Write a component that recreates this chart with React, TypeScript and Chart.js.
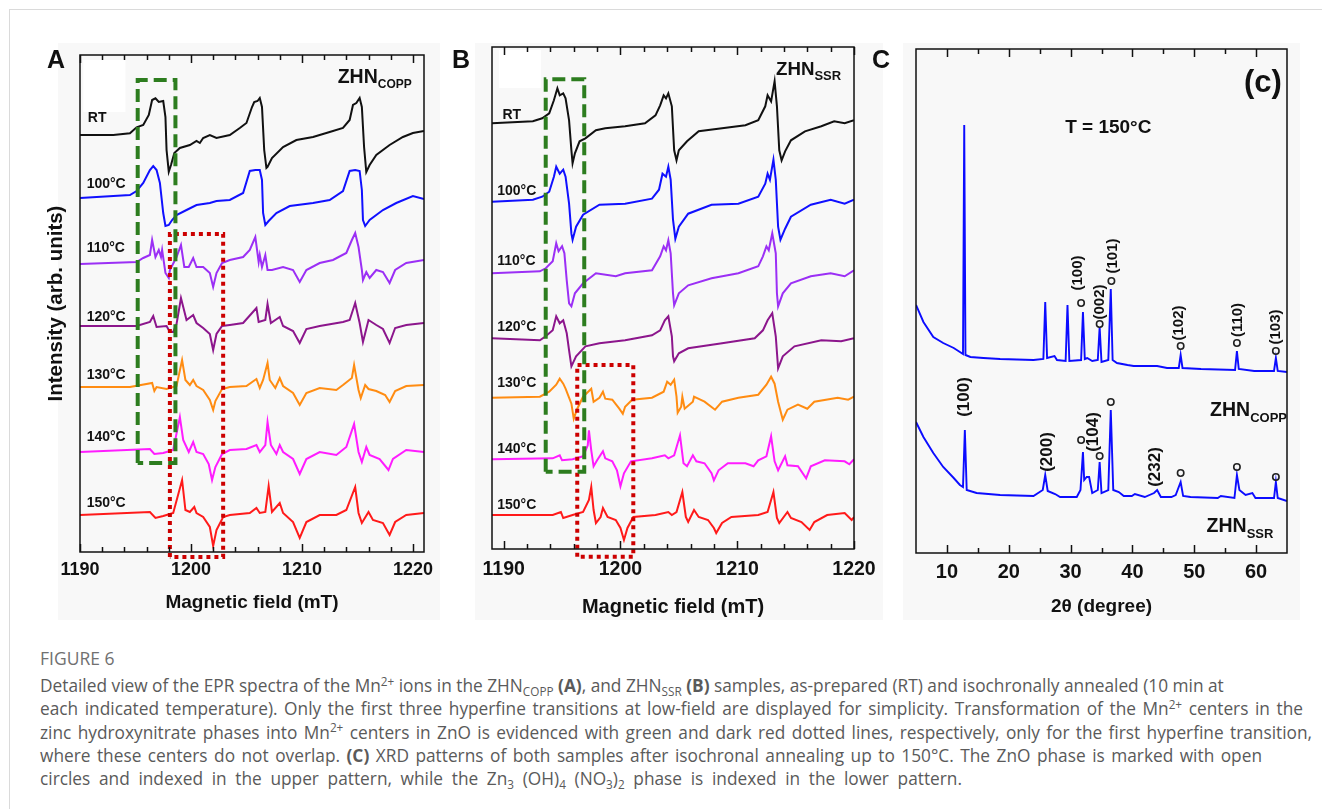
import React, { useEffect, useRef } from "react";
import { Chart, registerables } from "chart.js";
Chart.register(...registerables);

const FONT = "'Liberation Sans', Arial, Helvetica, sans-serif";
const CAPTION_FONT = "'Open Sans', 'Noto Sans', sans-serif";

// ---------- Panel A (ZHN_COPP) EPR traces: [field mT, intensity rel. to baseline] ----------
const A_RT = [[1190.0,0],[1193.0,0],[1194.5,1.7],[1195.1,7.7],[1195.7,10],[1196.2,20],[1196.5,35],[1196.8,36.7],[1197.1,33],[1197.5,34],[1197.7,18],[1197.8,-15],[1198.0,-36.7],[1198.2,-30],[1198.5,-18],[1199.0,-13],[1199.9,-10],[1200.5,-6],[1200.8,-8],[1201.1,-3],[1201.7,0],[1202.3,-3],[1203.5,0],[1204.4,7],[1205.0,12],[1205.5,28],[1205.7,33],[1206.0,34],[1206.2,37],[1206.4,28],[1206.6,-15],[1206.8,-33],[1206.9,-32],[1207.3,-23],[1208.3,-12],[1209.5,-5],[1211.0,-2],[1212.5,3],[1213.7,7],[1214.3,15],[1214.6,30],[1214.9,32],[1215.2,37],[1215.4,28],[1215.6,-12],[1215.8,-37],[1216.1,-30],[1216.7,-20],[1217.9,-10],[1219.1,-2],[1220.0,2],[1221.0,4]];
const A_100 = [[1190.0,0],[1194.5,3],[1195.1,7],[1195.7,15],[1196.3,28],[1196.6,32],[1196.9,28],[1197.2,15],[1197.5,-15],[1197.7,-28],[1198.0,-27],[1198.3,-22],[1198.7,-17],[1199.6,-12],[1200.5,-7],[1201.7,-5],[1202.3,-3],[1203.5,-2],[1204.7,5],[1205.3,27],[1205.8,28],[1206.2,28],[1206.4,18],[1206.5,-15],[1206.7,-27],[1207.0,-23],[1207.7,-15],[1208.9,-8],[1211.0,-5],[1212.5,-2],[1213.7,7],[1214.3,27],[1214.8,28],[1215.2,27],[1215.4,8],[1215.5,-22],[1215.7,-28],[1216.1,-22],[1217.3,-12],[1218.5,-5],[1220.0,2],[1221.0,-1]];
const A_110 = [[1190.0,0],[1195.1,2],[1195.7,6],[1196.3,9],[1196.5,24],[1196.8,7],[1197.1,14],[1197.3,7],[1197.4,14],[1197.7,-9],[1198.0,-14],[1198.1,-6],[1198.7,7],[1199.1,19],[1199.4,-3],[1199.8,-3],[1200.2,6],[1200.5,-3],[1201.1,-3],[1201.7,-9],[1202.0,-23],[1202.3,-9],[1202.8,1],[1203.5,4],[1204.7,7],[1205.3,14],[1205.8,27],[1206.1,2],[1206.2,9],[1206.4,-3],[1206.7,9],[1206.9,-6],[1207.3,-6],[1208.3,-3],[1209.2,-6],[1209.8,-18],[1210.4,-6],[1211.6,1],[1212.8,4],[1214.0,11],[1214.5,24],[1214.8,31],[1215.1,17],[1215.4,-6],[1215.5,-16],[1215.8,-8],[1216.1,-14],[1216.7,-6],[1217.3,-8],[1217.9,-19],[1218.4,-6],[1219.4,1],[1221.0,4]];
const A_120 = [[1190.0,0],[1195.1,0],[1196.3,4],[1196.6,10],[1196.9,-1],[1197.8,0],[1198.1,-6],[1198.4,-6],[1198.7,2],[1199.1,28],[1199.6,6],[1200.2,11],[1200.5,3],[1201.1,-2],[1201.7,-8],[1202.0,-24],[1202.3,-8],[1202.8,0],[1203.5,1],[1204.7,3],[1205.9,18],[1206.1,4],[1206.7,6],[1206.9,22],[1207.2,3],[1208.0,9],[1208.3,0],[1209.2,-5],[1209.8,-17],[1210.4,-3],[1211.6,0],[1213.7,4],[1214.3,6],[1214.8,23],[1215.2,3],[1215.5,-16],[1216.0,6],[1216.7,1],[1217.3,-3],[1217.9,-17],[1218.4,-2],[1219.4,1],[1221.0,3]];
const A_130 = [[1190.0,0],[1194.5,0],[1196.5,4],[1196.7,-4],[1196.9,0],[1197.8,-2],[1198.7,1],[1199.2,27],[1199.5,7],[1199.9,2],[1200.2,7],[1200.5,1],[1201.1,-3],[1201.7,-13],[1202.0,-23],[1202.2,-14],[1202.8,-2],[1203.5,0],[1205.0,1],[1205.9,8],[1206.2,-1],[1206.5,7],[1206.9,24],[1207.1,7],[1207.6,-1],[1208.0,9],[1208.3,1],[1209.2,-6],[1209.8,-18],[1210.4,-6],[1211.6,-1],[1213.1,-3],[1213.7,2],[1214.5,9],[1214.7,22],[1215.1,-3],[1215.3,-11],[1215.7,2],[1216.0,-2],[1216.7,-4],[1217.5,-8],[1217.9,-15],[1218.4,-4],[1219.4,1],[1221.0,2]];
const A_140 = [[1190.0,0],[1196.3,3],[1196.7,-2],[1197.5,-1],[1198.4,2],[1199.0,35],[1199.3,12],[1199.8,0],[1200.2,10],[1200.5,0],[1201.1,-2],[1201.6,-12],[1201.9,-28],[1202.2,-15],[1202.8,-2],[1203.5,2],[1205.0,3],[1205.9,7],[1206.2,0],[1206.7,7],[1206.9,30],[1207.2,7],[1207.7,-2],[1208.0,7],[1208.3,0],[1209.2,-7],[1209.8,-22],[1210.4,-7],[1211.6,0],[1213.1,-3],[1214.0,5],[1214.7,28],[1215.1,0],[1215.4,-10],[1215.8,5],[1216.1,-3],[1217.0,-7],[1217.8,-18],[1218.2,-7],[1219.4,2],[1221.0,0]];
const A_150 = [[1190.0,0],[1196.3,3],[1196.8,-3],[1197.5,-1],[1198.4,2],[1199.2,35],[1199.5,5],[1199.9,3],[1200.3,8],[1200.5,2],[1201.1,-2],[1201.7,-12],[1202.0,-31],[1202.3,-15],[1202.9,-2],[1203.5,0],[1205.3,2],[1205.9,7],[1206.2,2],[1206.7,3],[1207.0,29],[1207.3,3],[1208.0,12],[1208.3,2],[1209.2,-7],[1209.8,-23],[1210.4,-7],[1211.6,0],[1213.1,0],[1214.0,5],[1214.8,28],[1215.1,2],[1215.4,-8],[1216.0,3],[1216.4,-5],[1217.3,-8],[1217.9,-20],[1218.4,-7],[1219.4,0],[1221.0,2]];
const offsetsA = [417, 354, 288, 226, 165, 100, 37];
const labelYA = [434, 368, 304, 235, 177, 115, 49];

// ---------- Panel B (ZHN_SSR) ----------
const B_RT = [[1189.0,0],[1192.5,2],[1193.3,5],[1193.9,10],[1194.3,23],[1194.6,35],[1194.8,28],[1195.1,30],[1195.3,25],[1195.6,3],[1195.8,-27],[1195.9,-40],[1196.1,-30],[1196.5,-18],[1197.0,-15],[1197.9,-7],[1198.7,-5],[1200.4,-3],[1202.1,0],[1203.0,8],[1203.4,18],[1203.7,28],[1203.9,25],[1204.1,30],[1204.4,17],[1204.6,-27],[1204.8,-37],[1205.0,-27],[1205.7,-18],[1206.7,-8],[1208.7,-5],[1210.7,-2],[1211.8,3],[1212.4,17],[1212.6,28],[1212.9,22],[1213.2,42],[1213.4,17],[1213.6,-27],[1213.8,-37],[1214.1,-28],[1214.6,-17],[1215.8,-8],[1217.2,-3],[1218.3,2],[1219.2,0],[1220.0,3]];
const B_100 = [[1189.0,0],[1192.5,2],[1193.3,5],[1193.9,10],[1194.3,25],[1194.5,35],[1194.8,28],[1195.1,32],[1195.3,25],[1195.6,-2],[1195.8,-32],[1195.9,-38],[1196.2,-25],[1196.8,-13],[1198.2,-3],[1200.4,-2],[1202.7,3],[1203.3,12],[1203.6,28],[1203.9,25],[1204.1,35],[1204.3,22],[1204.5,-18],[1204.7,-37],[1205.0,-25],[1205.8,-12],[1207.8,-3],[1210.1,-2],[1211.8,5],[1212.4,18],[1212.6,28],[1212.8,22],[1213.1,42],[1213.3,22],[1213.5,-25],[1213.7,-38],[1214.1,-27],[1214.6,-15],[1216.3,-3],[1218.0,2],[1219.2,-2],[1220.0,2]];
const B_110 = [[1189.0,0],[1193.1,2],[1193.6,5],[1194.2,12],[1194.5,30],[1194.7,22],[1195.0,27],[1195.2,20],[1195.4,-7],[1195.6,-30],[1195.8,-33],[1196.1,-20],[1196.8,-10],[1197.9,0],[1199.6,-3],[1200.4,0],[1202.7,3],[1203.4,17],[1203.7,27],[1203.9,23],[1204.1,33],[1204.3,20],[1204.5,-20],[1204.6,-32],[1205.0,-20],[1205.8,-12],[1207.8,-5],[1210.1,0],[1211.8,7],[1212.2,17],[1212.5,27],[1212.7,23],[1213.0,40],[1213.3,20],[1213.4,-20],[1213.5,-33],[1213.9,-20],[1214.6,-10],[1216.3,-3],[1218.0,0],[1219.2,-3],[1220.0,3]];
const B_120 = [[1189.0,0],[1193.1,-2],[1193.6,2],[1194.2,8],[1194.5,22],[1194.8,15],[1195.1,18],[1195.4,5],[1195.6,-12],[1195.8,-28],[1196.2,-18],[1197.0,-8],[1198.2,-5],[1200.4,-2],[1202.7,3],[1203.4,8],[1203.8,18],[1204.1,22],[1204.4,2],[1204.5,-18],[1204.6,-23],[1205.0,-15],[1205.8,-10],[1208.7,-5],[1211.5,0],[1212.2,8],[1212.6,18],[1213.0,25],[1213.3,2],[1213.5,-30],[1213.9,-18],[1214.9,-8],[1217.2,-2],[1218.9,-3],[1220.0,0]];
const B_130 = [[1189.0,0],[1193.1,1],[1193.9,6],[1194.5,13],[1194.8,19],[1195.1,14],[1195.3,9],[1195.8,-6],[1196.0,-21],[1196.3,-11],[1196.8,1],[1197.5,9],[1197.7,-4],[1198.2,0],[1198.5,6],[1198.7,-1],[1199.3,-2],[1199.9,-11],[1200.2,-16],[1200.4,-9],[1201.0,-2],[1202.7,0],[1203.7,6],[1204.0,16],[1204.3,13],[1204.6,18],[1204.8,1],[1204.9,-15],[1205.2,-9],[1205.3,1],[1205.5,-11],[1206.2,-4],[1206.3,1],[1207.2,-4],[1208.1,-12],[1208.7,-4],[1210.1,0],[1211.8,3],[1212.5,13],[1212.9,21],[1213.2,14],[1213.5,-4],[1213.9,-22],[1214.3,-12],[1215.2,-7],[1216.0,-11],[1216.6,-4],[1218.6,0],[1219.5,-2],[1220.0,1]];
const B_140 = [[1189.0,0],[1194.2,1],[1194.8,4],[1195.0,-1],[1195.9,0],[1196.8,3],[1197.2,14],[1197.3,29],[1197.5,9],[1197.7,-7],[1198.0,-1],[1198.5,8],[1198.7,1],[1199.3,-2],[1199.7,-11],[1200.0,-27],[1200.3,-14],[1200.9,-2],[1202.7,1],[1203.8,4],[1204.1,1],[1204.6,4],[1205.1,24],[1205.4,-4],[1205.7,-7],[1206.2,4],[1206.5,-2],[1207.2,-4],[1207.8,-14],[1208.0,-21],[1208.4,-11],[1209.2,-4],[1210.7,-4],[1211.4,-7],[1211.8,-1],[1212.5,3],[1212.9,23],[1213.2,-2],[1213.5,-11],[1214.1,3],[1214.3,-6],[1215.2,-7],[1215.9,-19],[1216.3,-7],[1217.5,-1],[1219.2,-2],[1219.6,-5],[1220.0,0]];
const B_150 = [[1189.0,0],[1194.2,0],[1194.9,3],[1195.1,-3],[1195.9,0],[1196.8,3],[1197.3,15],[1197.5,28],[1197.7,5],[1197.9,-8],[1198.3,-2],[1198.5,7],[1198.9,-2],[1199.6,-5],[1200.0,-13],[1200.3,-25],[1200.6,-13],[1201.1,-2],[1203.0,0],[1204.1,3],[1204.4,0],[1204.8,3],[1205.3,23],[1205.6,-2],[1205.8,-7],[1206.3,5],[1206.7,-2],[1207.5,-5],[1208.0,-13],[1208.2,-18],[1208.7,-8],[1209.5,-2],[1211.8,0],[1212.6,3],[1213.1,23],[1213.4,-3],[1213.6,-8],[1214.3,3],[1214.6,-3],[1215.5,-7],[1216.2,-15],[1216.6,-7],[1217.7,0],[1219.2,2],[1219.8,-5],[1220.0,-2]];
const offsetsB = [425.7, 347.3, 275.7, 210.7, 151.3, 89.7, 34];
const labelYB = [433.5, 358, 288, 222, 165.5, 100, 44];

const tempLabels = ["RT", "100°C", "110°C", "120°C", "130°C", "140°C", "150°C"];
const traceColors = ["#111111", "#1010ff", "#9b2ff5", "#8c168c", "#ff8c12", "#ff1cff", "#ff1a1a"];

// boxes: [field left, field right, intensity bottom, intensity top]
const greenBoxA = [1195.2, 1198.6, 89, 472];
const redBoxA = [1198.1, 1202.9, -5, 318];
const greenBoxB = [1193.6, 1196.9, 77.3, 469.7];
const redBoxB = [1196.3, 1201.1, -7.7, 184];

const eprTicks = [1190, 1200, 1210, 1220];

// ---------- Panel C XRD: [2θ deg, intensity] ----------
const xrdCOPP = [[5.0,248],[6.2,231],[7.8,216],[9.4,210],[11.1,205],[12.1,201],[12.6,199],[12.8,428],[13.0,198],[13.8,196],[15.9,195],[18.6,194],[24.0,193],[25.6,194],[25.9,251],[26.2,195],[27.4,197],[27.8,193],[29.2,192],[29.5,248],[29.8,192],[31.7,193],[32.0,241],[32.3,194],[32.7,195],[33.5,192],[34.4,193],[34.7,226],[35.0,191],[36.1,193],[36.5,264],[36.8,193],[37.5,190],[39.2,188],[40.2,187],[44.0,187],[45.6,185],[47.5,185],[47.8,198],[48.1,185],[51.1,184],[56.6,183],[56.9,202],[57.2,184],[59.7,182],[62.9,182],[63.2,195],[63.5,182],[65.0,181]];
const xrdSSR = [[5.0,131],[6.2,116],[7.8,100],[9.4,86],[11.1,75],[12.1,68],[12.6,66],[12.9,123],[13.2,63],[14.8,60],[18.6,58],[24.0,57],[25.5,63],[25.9,78],[26.3,62],[27.5,59],[28.3,56],[31.0,56],[31.6,63],[32.0,101],[32.2,73],[32.6,76],[33.0,76],[33.5,60],[34.4,63],[34.7,91],[35.0,60],[36.1,63],[36.5,143],[36.9,63],[37.8,61],[38.6,57],[39.9,57],[40.4,59],[42.0,56],[43.5,60],[44.0,63],[44.6,56],[46.3,56],[47.0,58],[47.8,71],[48.2,57],[49.4,56],[53.8,55],[54.3,57],[56.5,55],[56.9,78],[57.3,63],[57.7,61],[58.3,58],[59.4,60],[59.9,55],[62.9,55],[63.2,71],[63.5,55],[65.0,52]];
const znoCirclesUpper = [[31.7,250],[34.7,229],[36.6,272],[47.8,207],[56.9,210],[63.2,202]];
const znoCirclesLower = [[31.7,113],[34.7,97],[36.5,151],[47.8,80],[56.9,86],[63.2,76]];
const hklUpper = ["(100)", "(002)", "(101)", "(102)", "(110)", "(103)"];
const hklLower = ["(100)", "(200)", "(104)", "(232)"];
const xrdTicks = [10, 20, 30, 40, 50, 60];

type Item = { t: string; sub?: string; x: number; y: number; size: number; subSize?: number; align?: CanvasTextAlign; rot?: boolean };

function drawItems(chart: any, items: Item[]) {
  const ctx: CanvasRenderingContext2D = chart.ctx;
  const xs = chart.scales.x, ys = chart.scales.y;
  ctx.save();
  ctx.fillStyle = "#111";
  ctx.textBaseline = "middle";
  for (const it of items) {
    const px = xs.getPixelForValue(it.x), py = ys.getPixelForValue(it.y);
    const main = `bold ${it.size}px ${FONT}`;
    ctx.font = main;
    if (it.rot) {
      ctx.save();
      ctx.translate(px, py);
      ctx.rotate(-Math.PI / 2);
      ctx.textAlign = "center";
      ctx.fillText(it.t, 0, 0);
      ctx.restore();
      continue;
    }
    if (it.sub) {
      const w1 = ctx.measureText(it.t).width;
      const subF = `bold ${it.subSize}px ${FONT}`;
      ctx.font = subF;
      const w2 = ctx.measureText(it.sub).width;
      const sx = it.align === "right" ? px - w1 - w2 : px;
      ctx.textAlign = "left";
      ctx.font = main;
      ctx.fillText(it.t, sx, py);
      ctx.font = subF;
      ctx.fillText(it.sub, sx + w1, py + it.size * 0.36);
    } else {
      ctx.textAlign = it.align || "left";
      ctx.fillText(it.t, px, py);
    }
  }
  ctx.restore();
}

function decorPlugin(items: Item[], minor: number[], major: number[], patch?: number[]) {
  return {
    id: "decor",
    beforeDatasetsDraw(chart: any) {
      if (!patch) return;
      const ctx = chart.ctx, xs = chart.scales.x, ys = chart.scales.y;
      const x1 = xs.getPixelForValue(patch[0]), x2 = xs.getPixelForValue(patch[1]);
      const y1 = ys.getPixelForValue(patch[3]), y2 = ys.getPixelForValue(patch[2]);
      ctx.save();
      ctx.fillStyle = "#ffffff";
      ctx.fillRect(x1, y1, x2 - x1, y2 - y1);
      ctx.restore();
    },
    afterDatasetsDraw(chart: any) {
      const ctx: CanvasRenderingContext2D = chart.ctx;
      const a = chart.chartArea;
      const xs = chart.scales.x;
      ctx.save();
      ctx.strokeStyle = "#111";
      ctx.lineWidth = 1.5;
      ctx.strokeRect(a.left, a.top, a.right - a.left, a.bottom - a.top);
      ctx.beginPath();
      for (const v of minor) {
        const p = Math.round(xs.getPixelForValue(v)) + 0.5;
        const L = major.includes(v) ? 8 : 5;
        ctx.moveTo(p, a.bottom);
        ctx.lineTo(p, a.bottom - L);
        ctx.moveTo(p, a.top);
        ctx.lineTo(p, a.top + L);
      }
      ctx.stroke();
      ctx.restore();
      drawItems(chart, items);
    },
  };
}

const boxPts = (b: number[]) => [
  { x: b[0], y: b[2] }, { x: b[0], y: b[3] }, { x: b[1], y: b[3] }, { x: b[1], y: b[2] }, { x: b[0], y: b[2] },
];

function xScale(min: number, max: number, ticks: number[], h: number, size: number, pad: number, title: string, titleSize: number, titlePad: number) {
  return {
    type: "linear", min, max,
    afterFit: (s: any) => { s.height = h; },
    afterBuildTicks: (s: any) => { s.ticks = ticks.map((v) => ({ value: v })); },
    grid: { display: false, drawTicks: false },
    border: { display: false },
    ticks: { color: "#111", font: { family: FONT, size, weight: "bold" }, padding: pad, maxRotation: 0, autoSkip: false, callback: (v: any) => `${v}` },
    title: { display: true, text: title, color: "#111", font: { family: FONT, size: titleSize, weight: "bold" }, padding: { top: 0, bottom: titlePad } },
  };
}

function yScale(max: number, w: number, title?: string) {
  return {
    type: "linear", min: 0, max,
    afterFit: (s: any) => { s.width = w; },
    grid: { display: false, drawTicks: false },
    border: { display: false },
    ticks: { display: false },
    title: { display: !!title, text: title || "", color: "#111", font: { family: FONT, size: 20.5, weight: "bold" }, padding: { top: 3.7, bottom: 0 } },
  };
}

function eprConfig(panel: "A" | "B") {
  const isA = panel === "A";
  const traces = isA ? [A_RT, A_100, A_110, A_120, A_130, A_140, A_150] : [B_RT, B_100, B_110, B_120, B_130, B_140, B_150];
  const offsets = isA ? offsetsA : offsetsB;
  const labelY = isA ? labelYA : labelYB;
  const green = isA ? greenBoxA : greenBoxB;
  const red = isA ? redBoxA : redBoxB;
  const xmin = isA ? 1190 : 1189;
  const xmax = isA ? 1221 : 1220;
  const items: Item[] = tempLabels.map((t, i) => ({
    t, x: isA ? (i === 0 ? 1190.7 : 1190.6) : (i === 0 ? 1189.9 : 1189.45), y: labelY[i], size: 14,
  }));
  items.push(isA
    ? { t: "ZHN", sub: "COPP", x: 1219.9, y: 474, size: 19.5, subSize: 12, align: "right" }
    : { t: "ZHN", sub: "SSR", x: 1218.9, y: 479, size: 18.7, subSize: 13, align: "right" });
  const minor: number[] = [];
  for (let v = 1190; v <= 1220; v += 2) minor.push(v);
  const patch = isA ? [1190.3, 1194.1, 440, 492] : [1189.6, 1193.2, 461, 499];
  return {
    type: "line",
    data: {
      datasets: [
        { data: boxPts(green), borderColor: "#2d7d1f", borderWidth: 4, borderDash: [13, 6], pointRadius: 0, clip: false, order: 0, borderJoinStyle: "miter" },
        { data: boxPts(red), borderColor: "#cc0000", borderWidth: 4, borderDash: [4, 4], pointRadius: 0, clip: false, order: 0, borderJoinStyle: "miter" },
        ...traces.map((tr, i) => ({
          data: tr.map(([x, y]) => ({ x, y: y + offsets[i] })),
          borderColor: traceColors[i], borderWidth: 2, pointRadius: 0, order: 1,
        })),
      ],
    },
    options: {
      responsive: false,
      animation: false,
      events: [],
      layout: { padding: isA ? { left: 0, top: 15, right: 21, bottom: 0 } : { left: 0, top: 7, right: 29, bottom: 0 } },
      plugins: { legend: { display: false }, tooltip: { enabled: false } },
      scales: {
        x: isA
          ? xScale(xmin, xmax, eprTicks, 78, 18, 7.5, "Magnetic field (mT)", 19, 15.6)
          : xScale(xmin, xmax, eprTicks, 81, 19.5, 9.3, "Magnetic field (mT)", 20, 11),
        y: isA ? yScale(497, 40, "Intensity (arb. units)") : yScale(502, 47),
      },
    },
    plugins: [decorPlugin(items, minor, eprTicks, patch)],
  };
}

function xrdConfig() {
  const upPos = [[31.1, 280], [34.7, 251], [36.9, 297], [47.5, 230], [57.0, 233], [63.2, 226]];
  const loPos = [[12.8, 156], [26.2, 101], [33.7, 121], [43.7, 86]];
  const items: Item[] = [
    { t: "(c)", x: 61.1, y: 470, size: 31, align: "center" },
    { t: "T = 150°C", x: 36.1, y: 425, size: 19, align: "center" },
    { t: "ZHN", sub: "COPP", x: 65.0, y: 142, size: 19.5, subSize: 13, align: "right" },
    { t: "ZHN", sub: "SSR", x: 62.8, y: 26, size: 19.5, subSize: 13, align: "right" },
    ...hklUpper.map((t, i) => ({ t, x: upPos[i][0], y: upPos[i][1], size: 15, rot: true })),
    ...hklLower.map((t, i) => ({ t, x: loPos[i][0], y: loPos[i][1], size: 17, rot: true })),
  ];
  const minor: number[] = [];
  for (let v = 10; v <= 60; v += 5) minor.push(v);
  const circle = (pts: number[][]) => ({
    data: pts.map(([x, y]) => ({ x, y })), showLine: false, pointRadius: 3.2, pointBorderWidth: 1.6,
    pointBorderColor: "#222", pointBackgroundColor: "rgba(0,0,0,0)", order: 0,
  });
  return {
    type: "line",
    data: {
      datasets: [
        circle(znoCirclesUpper),
        circle(znoCirclesLower),
        { data: xrdCOPP.map(([x, y]) => ({ x, y })), borderColor: "#0c0cff", borderWidth: 1.9, pointRadius: 0, order: 1 },
        { data: xrdSSR.map(([x, y]) => ({ x, y })), borderColor: "#0c0cff", borderWidth: 1.9, pointRadius: 0, order: 1 },
      ],
    },
    options: {
      responsive: false,
      animation: false,
      events: [],
      layout: { padding: { left: 0, top: 9, right: 18, bottom: 0 } },
      plugins: { legend: { display: false }, tooltip: { enabled: false } },
      scales: {
        x: xScale(5, 65, xrdTicks, 77, 20, 7, "2θ (degree)", 19, 11.6),
        y: yScale(504, 21),
      },
    },
    plugins: [decorPlugin(items, minor, xrdTicks)],
  };
}

function ChartCanvas({ left, top, width, height, build }: { left: number; top: number; width: number; height: number; build: () => any }) {
  const ref = useRef<HTMLCanvasElement>(null);
  useEffect(() => {
    const chart = new Chart(ref.current as HTMLCanvasElement, build());
    return () => chart.destroy();
  }, []);
  return <canvas ref={ref} width={width} height={height} style={{ position: "absolute", left, top, width, height }} />;
}

const Sup = ({ c }: { c: string }) => <span style={{ fontSize: "0.68em", position: "relative", top: "-0.55em" }}>{c}</span>;
const Sub = ({ c }: { c: string }) => <span style={{ fontSize: "0.68em", position: "relative", top: "0.3em" }}>{c}</span>;

const lineStyle = (w: number) => ({ width: w, textAlign: "justify" as const, textAlignLast: "justify" as const, whiteSpace: "nowrap" as const, height: 23.3 });

export default function App() {
  const panelBg = "#f8f8f8";
  const letter = { position: "absolute" as const, fontFamily: FONT, fontWeight: "bold" as const, fontSize: 25, lineHeight: "25px", color: "#111" };
  return (
    <div style={{ position: "absolute", left: 0, top: 0, width: 1322, height: 809, overflow: "hidden", background: "#fff" }}>
      <div style={{ position: "absolute", left: 9, top: 9, right: 0, bottom: -2, borderTop: "1.5px solid #dadada", borderLeft: "1.5px solid #dadada" }} />
      <div style={{ position: "absolute", left: 58, top: 43, width: 382, height: 577, background: panelBg }} />
      <div style={{ position: "absolute", left: 475, top: 43, width: 408, height: 577, background: panelBg }} />
      <div style={{ position: "absolute", left: 903, top: 43, width: 397, height: 577, background: panelBg }} />
      <ChartCanvas left={40} top={40} width={405} height={590} build={() => eprConfig("A")} />
      <ChartCanvas left={445} top={40} width={440} height={590} build={() => eprConfig("B")} />
      <ChartCanvas left={895} top={40} width={410} height={590} build={() => xrdConfig()} />
      <div style={{ ...letter, left: 47, top: 47 }}>A</div>
      <div style={{ ...letter, left: 452, top: 47 }}>B</div>
      <div style={{ ...letter, left: 872, top: 47 }}>C</div>
      <div style={{ position: "absolute", left: 40, top: 646, fontFamily: CAPTION_FONT, fontSize: 17.5, lineHeight: "24px", color: "#707070", whiteSpace: "nowrap" }}>
        FIGURE 6
      </div>
      <div style={{ position: "absolute", left: 40, top: 674, fontFamily: CAPTION_FONT, fontSize: 17.3, lineHeight: "23.3px", color: "#5a5a5a" }}>
        <div style={lineStyle(1158)}>
          Detailed view of the EPR spectra of the Mn<Sup c="2+" /> ions in the ZHN<Sub c="COPP" /> <b>(A)</b>, and ZHN<Sub c="SSR" /> <b>(B)</b> samples, as-prepared (RT) and isochronally annealed (10 min at
        </div>
        <div style={lineStyle(1263)}>
          each indicated temperature). Only the first three hyperfine transitions at low-field are displayed for simplicity. Transformation of the Mn<Sup c="2+" /> centers in the
        </div>
        <div style={lineStyle(1272)}>
          zinc hydroxynitrate phases into Mn<Sup c="2+" /> centers in ZnO is evidenced with green and dark red dotted lines, respectively, only for the first hyperfine transition,
        </div>
        <div style={lineStyle(1222)}>
          where these centers do not overlap. <b>(C)</b> XRD patterns of both samples after isochronal annealing up to 150°C. The ZnO phase is marked with open
        </div>
        <div style={lineStyle(922)}>
          circles and indexed in the upper pattern, while the Zn<Sub c="3" /> (OH)<Sub c="4" /> (NO<Sub c="3" />)<Sub c="2" /> phase is indexed in the lower pattern.
        </div>
      </div>
    </div>
  );
}
